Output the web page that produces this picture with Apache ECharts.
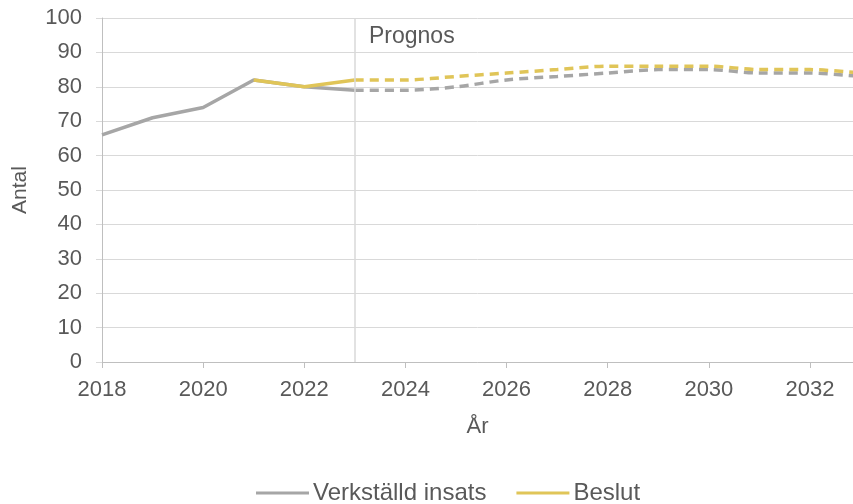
<!DOCTYPE html>
<html>
<head>
<meta charset="utf-8">
<script src="https://cdn.jsdelivr.net/npm/echarts@6/dist/echarts.min.js"></script>
<style>
html, body { margin: 0; padding: 0; background: #fff; }
#chart { width: 853px; height: 504px; }
</style>
</head>
<body>
<div id="chart"></div>
<script>
// utfall
const histYears = [2018, 2019, 2020, 2021, 2022, 2023]
const histInsats = [66, 71, 74, 82, 80, 79]
const beslutYears = [2021, 2022, 2023]
const histBeslut = [82, 80, 82]
// prognos
const progYears = [2023, 2024, 2025, 2026, 2027, 2028, 2029, 2030, 2031, 2032, 2033]
const progInsats = [79, 79, 80, 82, 83, 84, 85, 85, 84, 84, 83]
const progBeslut = [82, 82, 83, 84, 85, 86, 86, 86, 85, 85, 84]
const prognosStart = 2023

const grey = '#a6a6a6'
const gold = '#e0c558'
const textColor = '#595959'
const font = 'Liberation Sans, Arial, sans-serif'

const pairs = (xs, ys) => xs.map((x, i) => [x, ys[i]])

const chart = echarts.init(document.getElementById('chart'))
chart.setOption({
    animation: false,
    textStyle: { fontFamily: font },
    grid: { left: 102, right: 0, top: 18, bottom: 142, outerBoundsMode: 'none', containLabel: false },
    xAxis: {
        type: 'value',
        min: 2018,
        max: 2032.85,
        interval: 2,
        name: 'År',
        nameLocation: 'middle',
        nameGap: 54,
        nameTextStyle: { color: textColor, fontSize: 22, fontFamily: font },
        axisLine: { lineStyle: { color: '#bfbfbf', width: 1 } },
        axisTick: { show: true, length: 6, lineStyle: { color: '#bfbfbf' } },
        axisLabel: {
            color: textColor, fontSize: 22, fontFamily: font, margin: 17, showMaxLabel: false,
            formatter: v => String(v)
        },
        splitLine: { show: false }
    },
    yAxis: {
        type: 'value',
        min: 0,
        max: 100,
        interval: 10,
        name: 'Antal',
        nameLocation: 'middle',
        nameGap: 71,
        nameRotate: 90,
        nameTextStyle: { color: textColor, fontSize: 21, fontFamily: font },
        axisLine: { show: true, lineStyle: { color: '#bfbfbf', width: 1 } },
        axisTick: { show: true, length: 6, lineStyle: { color: '#d9d9d9' } },
        axisLabel: { color: textColor, fontSize: 22, fontFamily: font, margin: 20 },
        splitLine: { lineStyle: { color: '#d9d9d9', width: 1 } }
    },
    legend: {
        bottom: -6,
        left: 251,
        itemWidth: 53,
        itemHeight: 3,
        itemGap: 30,
        icon: 'rect',
        textStyle: { color: textColor, fontSize: 24, fontFamily: font, padding: [0, 0, 0, -1] },
        data: ['Verkställd insats', 'Beslut']
    },
    title: {
        text: 'Prognos',
        left: 364,
        top: 20,
        textStyle: { color: textColor, fontSize: 23, fontWeight: 'normal', fontFamily: font }
    },
    series: [
        {
            name: 'Verkställd insats',
            type: 'line',
            data: pairs(histYears, histInsats),
            symbol: 'none',
            color: grey,
            lineStyle: { color: grey, width: 3.5 },
            markLine: {
                silent: true,
                symbol: 'none',
                label: { show: false },
                lineStyle: { color: '#d9d9d9', width: 1.5, type: 'solid' },
                data: [{ xAxis: prognosStart }]
            }
        },
        {
            name: 'Verkställd insats',
            type: 'line',
            data: pairs(progYears, progInsats),
            symbol: 'none',
            smooth: 0.3,
            color: grey,
            lineStyle: { color: grey, width: 3.5, type: [9, 6] }
        },
        {
            name: 'Beslut',
            type: 'line',
            data: pairs(beslutYears, histBeslut),
            symbol: 'none',
            color: gold,
            lineStyle: { color: gold, width: 3.5 }
        },
        {
            name: 'Beslut',
            type: 'line',
            data: pairs(progYears, progBeslut),
            symbol: 'none',
            smooth: 0.3,
            color: gold,
            lineStyle: { color: gold, width: 3.5, type: [9, 6] }
        }
    ]
})
</script>
</body>
</html>
